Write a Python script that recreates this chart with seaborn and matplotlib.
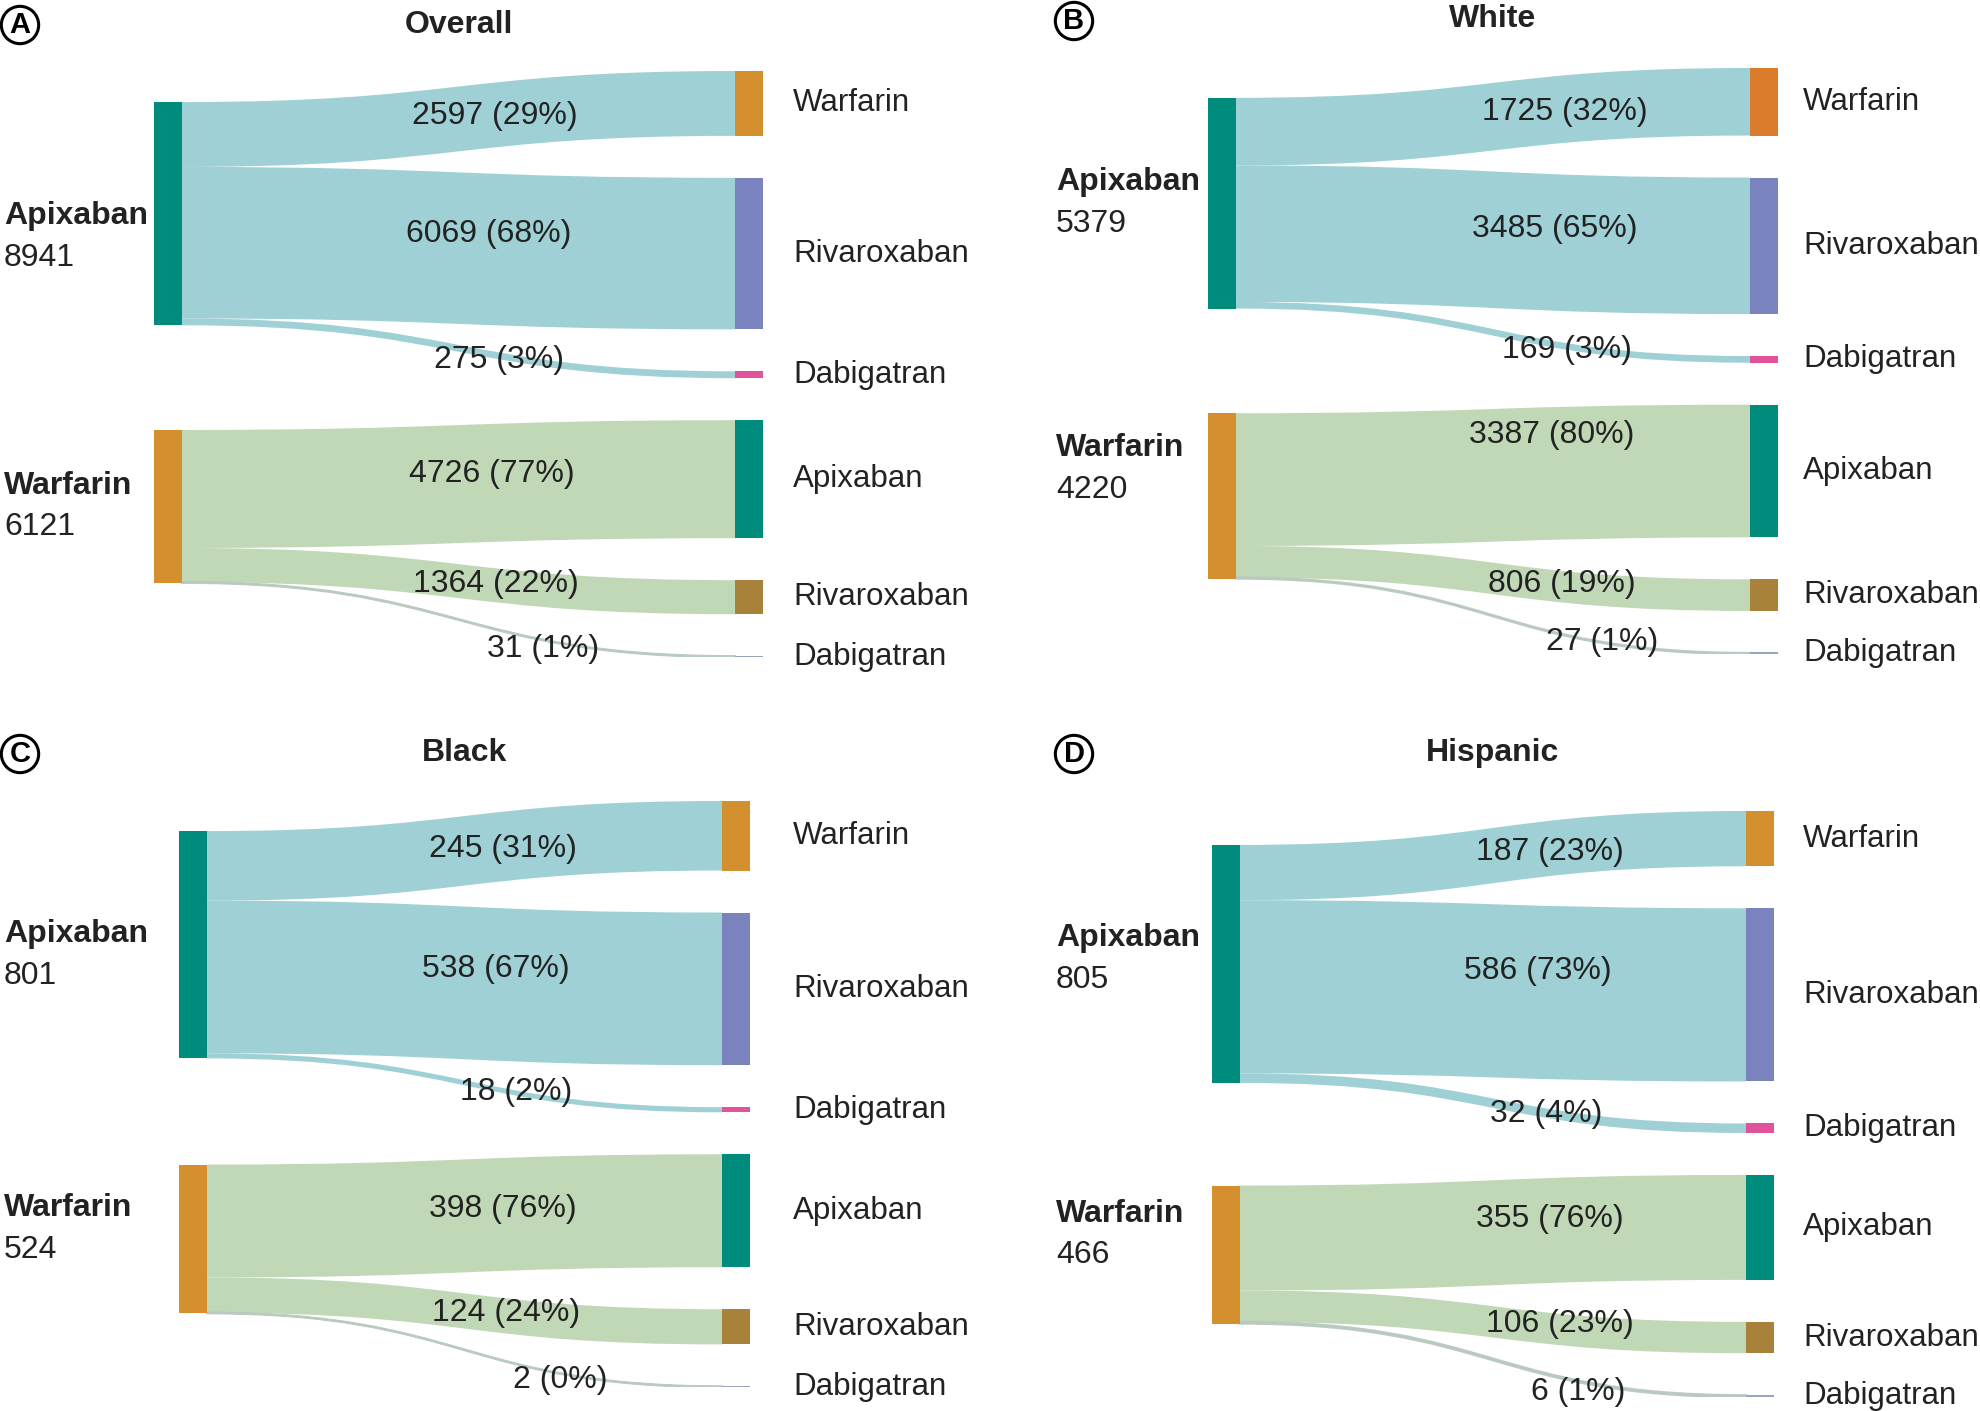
import numpy as np
import matplotlib
matplotlib.use('Agg')
import matplotlib.pyplot as plt
from matplotlib.path import Path
from matplotlib.patches import PathPatch, Rectangle
import seaborn as sns

# data
SOURCES = ['Apixaban', 'Warfarin']
TARGETS = ['Warfarin', 'Rivaroxaban', 'Dabigatran', 'Apixaban', 'Rivaroxaban', 'Dabigatran']
LINK_SRC = [0, 0, 0, 1, 1, 1]

PANELS = ['Overall', 'White', 'Black', 'Hispanic']
LETTERS = ['A', 'B', 'C', 'D']

overall_flows = [2597, 6069, 275, 4726, 1364, 31]
overall_pct = [29, 68, 3, 77, 22, 1]
overall_totals = [8941, 6121]

white_flows = [1725, 3485, 169, 3387, 806, 27]
white_pct = [32, 65, 3, 80, 19, 1]
white_totals = [5379, 4220]

black_flows = [245, 538, 18, 398, 124, 2]
black_pct = [31, 67, 2, 76, 24, 0]
black_totals = [801, 524]

hispanic_flows = [187, 586, 32, 355, 106, 6]
hispanic_pct = [23, 73, 4, 76, 23, 1]
hispanic_totals = [805, 466]

FLOWS = [overall_flows, white_flows, black_flows, hispanic_flows]
PCTS = [overall_pct, white_pct, black_pct, hispanic_pct]
TOTALS = [overall_totals, white_totals, black_totals, hispanic_totals]

# styling
SOURCE_COLORS = ['#008c7c', '#d48f2f']
LINK_COLORS = ['#99ced3', '#bdd6b2']
THIN_LINK_COLORS = ['#99ced3', '#b9c9bf']
TARGET_COLORS = ['#d48f2f', '#7b83be', '#e0529a', '#008c7c', '#a8823a', '#9aa4be']
TARGET_COLORS_B = ['#db7b2c', '#7b83be', '#e0529a', '#008c7c', '#a8823a', '#9aa4be']
TXT = '#222222'

W, H = 1980, 1411
# panel boxes in pixels: left node left edge, right node right edge, top
BOXES = [(154, 763, 71), (1208, 1778, 68), (179, 750, 801), (1212, 1774, 811)]
PANEL_H = 586
PAD = 42
NODE_W = 28
LEFT_LABEL_X = [4, 1056, 4, 1056]
RIGHT_LABEL_X = [793, 1803, 793, 1803]
TITLE_Y = [25, 19, 753, 753]
LETTER_XY = [(20, 25), (1074, 21), (20, 754), (1074, 754)]
# vertical nudge (pixels, down positive) of the left name/total pair
LEFT_LABEL_DY = [[23, 0], [0, -27], [10, -10], [-5, -20]]

LABEL_FRAC = [[.566, .555, .573, .56, .568, .653],
              [.639, .62, .644, .614, .634, .713],
              [.575, .56, .60, .575, .58, .685],
              [.613, .589, .606, .613, .633, .668]]
LABEL_DY = [[1, -15, 4, -9, -1, 9],
            [3, -13, 3, -38, -3, -1],
            [3, -15, -1, -5, -3, 6],
            [4, -21, 1, -11, -6, 11]]

sns.set_theme(style='white')
plt.rcParams['font.family'] = ['Liberation Sans', 'DejaVu Sans']

fig = plt.figure(figsize=(W / 100, H / 100), dpi=100)
fig.patch.set_facecolor('white')

tt = np.linspace(0, 1, 400)
xt_curve = 1.5 * tt * (1 - tt) + tt ** 3
st_curve = 3 * tt ** 2 - 2 * tt ** 3


def ribbon(xs, xt, ys0, ys1, yt0, yt1):
    xm = (xs + xt) / 2
    verts = [(xs, ys0), (xm, ys0), (xm, yt0), (xt, yt0), (xt, yt1),
             (xm, yt1), (xm, ys1), (xs, ys1), (xs, ys0)]
    codes = [Path.MOVETO, Path.CURVE4, Path.CURVE4, Path.CURVE4, Path.LINETO,
             Path.CURVE4, Path.CURVE4, Path.CURVE4, Path.CLOSEPOLY]
    return Path(verts, codes)


for p in range(4):
    x0, x1, top = BOXES[p]
    flows = np.array(FLOWS[p], dtype=float)
    pw = x1 - x0
    ax = fig.add_axes([x0 / W, 1 - (top + PANEL_H) / H, pw / W, PANEL_H / H])
    total = flows.sum()
    span = total / (1 - 5 * PAD / PANEL_H)
    pad = span * PAD / PANEL_H
    px = span / PANEL_H  # data units per pixel
    ax.set_xlim(0, pw)
    ax.set_ylim(span, 0)
    ax.set_axis_off()

    # right column
    t_top = np.concatenate([[0], np.cumsum(flows + pad)[:-1]])
    t_bot = t_top + flows
    t_mid = (t_top + t_bot) / 2

    # left column: centred on weighted targets
    s_top, s_bot = [], []
    for s in range(2):
        idx = [i for i in range(6) if LINK_SRC[i] == s]
        hgt = flows[idx].sum()
        c = np.sum(flows[idx] * t_mid[idx]) / hgt
        s_top.append(c - hgt / 2)
        s_bot.append(c + hgt / 2)

    xs, xe = NODE_W, pw - NODE_W
    tcols = TARGET_COLORS_B if p == 1 else TARGET_COLORS
    cursor = list(s_top)
    for i in range(6):
        s = LINK_SRC[i]
        ys0 = cursor[s]
        ys1 = ys0 + flows[i]
        cursor[s] = ys1
        thin = flows[i] < 3 * px
        ax.add_patch(PathPatch(ribbon(xs, xe, ys0, ys1, t_top[i], t_bot[i]),
                               fc=THIN_LINK_COLORS[s] if thin else LINK_COLORS[s],
                               ec=THIN_LINK_COLORS[s] if thin else 'none',
                               lw=1.6 if thin else 0, alpha=0.95))
        # flow label
        frac = LABEL_FRAC[p][i]
        sv = np.interp(frac, xt_curve, st_curve)
        yc = (ys0 + ys1) / 2 + ((t_top[i] + t_bot[i]) / 2 - (ys0 + ys1) / 2) * sv
        ax.annotate(f'{FLOWS[p][i]} ({PCTS[p][i]}%)', xy=(xs + frac * (xe - xs), yc),
                    xytext=(0, -LABEL_DY[p][i] * 0.72), textcoords='offset points',
                    ha='center', va='center', fontsize=23, color=TXT)

    for i in range(6):
        hgt = max(t_bot[i] - t_top[i], 2 * px)
        ax.add_patch(Rectangle((xe, t_mid[i] - hgt / 2), NODE_W, hgt, fc=tcols[i], ec='none'))
        ax.annotate(TARGETS[i], xy=(RIGHT_LABEL_X[p] / W, t_mid[i]),
                    xycoords=('figure fraction', 'data'), ha='left', va='center',
                    fontsize=22.5, color=TXT, annotation_clip=False)

    for s in range(2):
        ax.add_patch(Rectangle((0, s_top[s]), NODE_W, s_bot[s] - s_top[s],
                               fc=SOURCE_COLORS[s], ec='none'))
        yc = (s_top[s] + s_bot[s]) / 2 + LEFT_LABEL_DY[p][s] * px
        ax.annotate(SOURCES[s], xy=(LEFT_LABEL_X[p] / W, yc),
                    xycoords=('figure fraction', 'data'), xytext=(0, 15),
                    textcoords='offset points', ha='left', va='center',
                    fontsize=23, fontweight='bold', color=TXT, annotation_clip=False)
        ax.annotate(str(TOTALS[p][s]), xy=(LEFT_LABEL_X[p] / W, yc),
                    xycoords=('figure fraction', 'data'), xytext=(0, -15),
                    textcoords='offset points', ha='left', va='center',
                    fontsize=23, color=TXT, annotation_clip=False)

    fig.text((x0 + x1) / 2 / W, 1 - TITLE_Y[p] / H, PANELS[p], ha='center', va='center',
             fontsize=23, fontweight='bold', color=TXT)
    lx, ly = LETTER_XY[p]
    fig.text(lx / W, 1 - ly / H, LETTERS[p], ha='center', va='center', fontsize=21,
             fontweight='bold', color='black',
             bbox=dict(boxstyle='circle,pad=0.16', fc='white', ec='black', lw=2.2))

fig.savefig('out.png', dpi=100, facecolor='white')
